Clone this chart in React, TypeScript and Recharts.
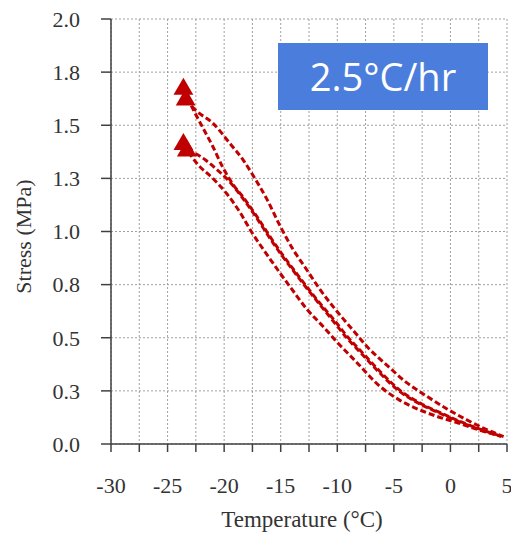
import React from 'react';
import { ComposedChart, Line, Scatter, XAxis, YAxis, ZAxis, CartesianGrid } from 'recharts';

const runA = [
  { x: -23.4, y: 1.62 }, { x: -22.4, y: 1.565 }, { x: -21.0, y: 1.51 }, { x: -19.5, y: 1.415 },
  { x: -18.3, y: 1.335 }, { x: -17.4, y: 1.26 }, { x: -16.2, y: 1.15 }, { x: -15.0, y: 1.02 },
  { x: -13.9, y: 0.915 }, { x: -12.7, y: 0.82 }, { x: -11.5, y: 0.725 }, { x: -10.35, y: 0.645 },
  { x: -8.6, y: 0.535 }, { x: -7.4, y: 0.46 }, { x: -5.6, y: 0.37 }, { x: -3.9, y: 0.29 },
  { x: -2.1, y: 0.225 }, { x: -0.3, y: 0.165 }, { x: 1.4, y: 0.115 }, { x: 3.2, y: 0.068 },
  { x: 4.7, y: 0.035 },
];
const runB = [
  { x: -23.6, y: 1.67 }, { x: -22.6, y: 1.56 }, { x: -21.9, y: 1.49 }, { x: -21.0, y: 1.4 },
  { x: -20.1, y: 1.3 }, { x: -19.2, y: 1.22 }, { x: -18.3, y: 1.16 }, { x: -17.1, y: 1.07 },
  { x: -16.0, y: 0.98 }, { x: -14.9, y: 0.895 }, { x: -13.85, y: 0.82 }, { x: -12.7, y: 0.74 },
  { x: -11.5, y: 0.66 }, { x: -10.3, y: 0.585 }, { x: -9.1, y: 0.505 }, { x: -7.7, y: 0.425 },
  { x: -6.2, y: 0.34 }, { x: -4.4, y: 0.25 }, { x: -2.6, y: 0.19 }, { x: -0.8, y: 0.145 },
  { x: 0.9, y: 0.105 }, { x: 2.6, y: 0.07 }, { x: 4.6, y: 0.035 },
];
const runC = [
  { x: -23.3, y: 1.38 }, { x: -22.3, y: 1.36 }, { x: -21.5, y: 1.33 }, { x: -20.4, y: 1.28 },
  { x: -19.7, y: 1.245 }, { x: -18.4, y: 1.16 }, { x: -17.2, y: 1.07 }, { x: -16.1, y: 0.98 },
  { x: -15.0, y: 0.895 }, { x: -13.95, y: 0.82 }, { x: -12.8, y: 0.74 }, { x: -11.6, y: 0.66 },
  { x: -10.45, y: 0.585 }, { x: -9.25, y: 0.505 }, { x: -7.85, y: 0.425 }, { x: -6.35, y: 0.34 },
  { x: -4.55, y: 0.25 }, { x: -2.75, y: 0.19 }, { x: -0.95, y: 0.145 }, { x: 0.75, y: 0.105 },
  { x: 2.5, y: 0.07 }, { x: 4.5, y: 0.035 },
];
const runD = [
  { x: -23.6, y: 1.41 }, { x: -22.4, y: 1.32 }, { x: -21.0, y: 1.25 }, { x: -19.8, y: 1.18 },
  { x: -18.6, y: 1.09 }, { x: -17.6, y: 1.0 }, { x: -16.2, y: 0.89 }, { x: -15.0, y: 0.8 },
  { x: -13.9, y: 0.72 }, { x: -12.7, y: 0.635 }, { x: -11.2, y: 0.55 }, { x: -10.2, y: 0.49 },
  { x: -8.3, y: 0.385 }, { x: -6.2, y: 0.27 }, { x: -4.6, y: 0.21 }, { x: -2.7, y: 0.16 },
  { x: -1.2, y: 0.13 }, { x: 0.9, y: 0.095 }, { x: 2.6, y: 0.065 }, { x: 4.4, y: 0.038 },
];
const runs = [runA, runB, runC, runD];

const xTicks = [-30, -27.5, -25, -22.5, -20, -17.5, -15, -12.5, -10, -7.5, -5, -2.5, 0, 2.5, 5];
const xTickLabels = ['-30', '', '-25', '', '-20', '', '-15', '', '-10', '', '-5', '', '0', '', '5'];
const yTicks = [0, 0.25, 0.5, 0.75, 1, 1.25, 1.5, 1.75, 2];
const yTickLabels = ['0.0', '0.3', '0.5', '0.8', '1.0', '1.3', '1.5', '1.8', '2.0'];

const RED = '#c00000';
const AXIS = '#404040';
const SERIF = "'Liberation Serif', 'Times New Roman', serif";
const tickStyle = { fill: '#333', fontSize: 22, fontFamily: SERIF };

const YLabel = (props: any) => {
  const vb = props.viewBox || { x: 0, y: 0, width: 0, height: 0 };
  const x = vb.x + 23;
  const y = vb.y + vb.height / 2 + 5;
  return (
    <text x={x} y={y} transform={`rotate(-90 ${x} ${y})`} textAnchor="middle" dominantBaseline="central"
      fill="#333" fontSize={22} style={{ fontFamily: SERIF }}>
      Stress (MPa)
    </text>
  );
};

export default function App() {
  const starts = runs.map((r) => r[0]);
  return (
    <div style={{ position: 'relative', width: 511, height: 536, fontFamily: SERIF }}>
      <style>{'body { margin: 0; }'}</style>
      <ComposedChart width={511} height={536} margin={{ top: 19, right: 4, left: 0, bottom: 0 }}>
        <CartesianGrid stroke="#a0a0a0" strokeDasharray="2 2" />
        <XAxis
          type="number"
          dataKey="x"
          domain={[-30, 5]}
          ticks={xTicks}
          tickFormatter={(v: number) => xTickLabels[xTicks.indexOf(v)] ?? ''}
          interval={0}
          height={92}
          tick={tickStyle}
          tickSize={8}
          tickMargin={25}
          axisLine={{ stroke: AXIS, strokeWidth: 1.5 }}
          tickLine={{ stroke: AXIS, strokeWidth: 1.5 }}
          allowDataOverflow
          label={{ value: 'Temperature (°C)', position: 'insideBottom', offset: 9, dx: -7, fill: '#333', fontSize: 23, fontFamily: SERIF }}
        />
        <YAxis
          type="number"
          dataKey="y"
          domain={[0, 2]}
          ticks={yTicks}
          tickFormatter={(v: number) => yTickLabels[yTicks.indexOf(v)] ?? ''}
          interval={0}
          width={111}
          tick={tickStyle}
          tickSize={10}
          tickMargin={21}
          axisLine={{ stroke: AXIS, strokeWidth: 1.5 }}
          tickLine={{ stroke: AXIS, strokeWidth: 1.5 }}
          allowDataOverflow
          label={<YLabel />}
        />
        <ZAxis range={[170, 170]} />
        {runs.map((r, i) => (
          <Line
            key={i}
            data={r}
            dataKey="y"
            type="monotone"
            stroke={RED}
            strokeWidth={3}
            strokeDasharray="6 3"
            dot={false}
            activeDot={false}
            isAnimationActive={false}
          />
        ))}
        <Scatter data={starts} dataKey="y" fill={RED} shape="triangle" isAnimationActive={false} />
      </ComposedChart>
      <div
        style={{
          position: 'absolute', left: 278, top: 43, width: 210, height: 67,
          background: '#4a7ddc', color: '#fff', display: 'flex', alignItems: 'center',
          justifyContent: 'center', fontFamily: 'Open Sans', fontSize: 38, lineHeight: '67px',
        }}
      >
        2.5°C/hr
      </div>
    </div>
  );
}
